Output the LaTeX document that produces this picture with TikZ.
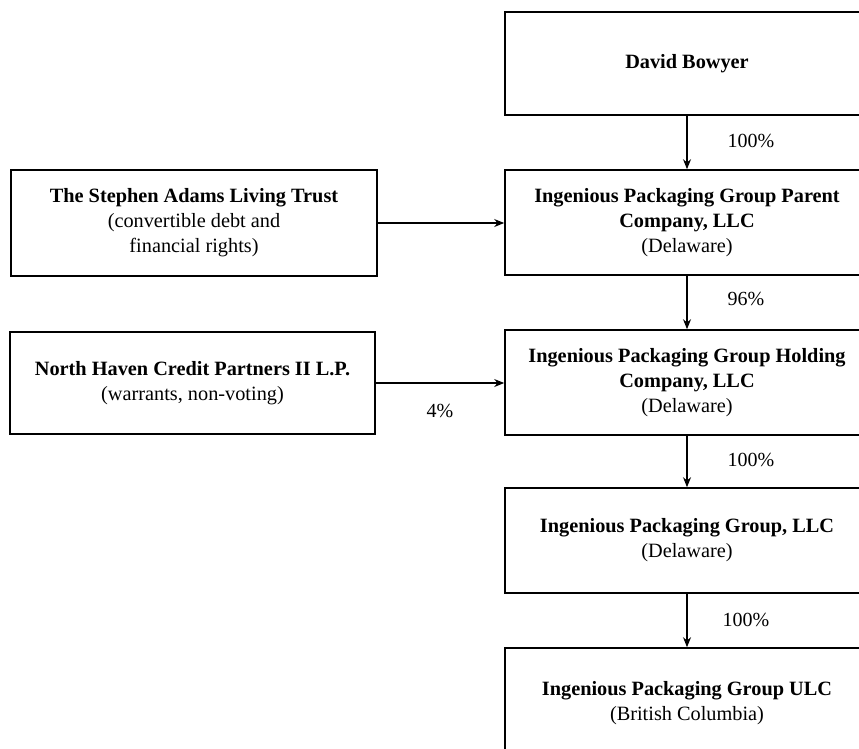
\documentclass[tikz,border=0pt]{standalone}
\usepackage{fontspec}
\setmainfont{Liberation Serif}
\usetikzlibrary{arrows.meta}
\begin{document}
\begin{tikzpicture}[x=1pt,y=-1pt,
  box/.style={draw=black, line width=1.6pt, inner sep=0pt, align=center,
    font=\fontsize{20.3}{25}\selectfont},
  rbox/.style={box, minimum width=364pt, minimum height=105pt},
  arr/.style={line width=1.2pt, -{Stealth[length=10pt,width=8pt]}},
  pct/.style={font=\fontsize{20}{22}\selectfont, inner sep=0pt}]
\useasboundingbox (0,0) rectangle (859,748);
\begin{scope}
\clip (0,0) rectangle (859,748);
\node[rbox, minimum height=103pt] (dav) at (687,63.5) {\textbf{David Bowyer}};
\node[rbox] (par) at (687,222.5) {\textbf{Ingenious Packaging Group Parent}\\\textbf{Company, LLC}\\(Delaware)};
\node[rbox] (hol) at (687,382.5) {\textbf{Ingenious Packaging Group Holding}\\\textbf{Company, LLC}\\(Delaware)};
\node[rbox] (llc) at (687,540.5) {\textbf{Ingenious Packaging Group, LLC}\\(Delaware)};
\node[rbox, minimum height=110pt] (ulc) at (687,703) {\textbf{Ingenious Packaging Group ULC}\\(British Columbia)};
\end{scope}
\node[box, minimum width=366pt, minimum height=106pt] (tru) at (194,223) {\textbf{The Stephen Adams Living Trust}\\(convertible debt and\\financial rights)};
\node[box, minimum width=365pt, minimum height=102pt] (nor) at (192.5,383) {\textbf{North Haven Credit Partners II L.P.}\\(warrants, non-voting)};
\draw[arr] (dav.south) -- (par.north);
\draw[arr] (par.south) -- (hol.north);
\draw[arr] (hol.south) -- (llc.north);
\draw[arr] (llc.south) -- (ulc.north);
\draw[arr] (tru.east) -- (tru.east -| par.west);
\draw[arr] (nor.east) -- (nor.east -| hol.west);
\node[pct] (p1) at (751,141) {100\%};
\node[pct] (p2) at (746,299) {96\%};
\node[pct] (p3) at (751,460) {100\%};
\node[pct] (p4) at (746,620) {100\%};
\node[pct] (p5) at (440,411) {4\%};
\end{tikzpicture}
\end{document}
